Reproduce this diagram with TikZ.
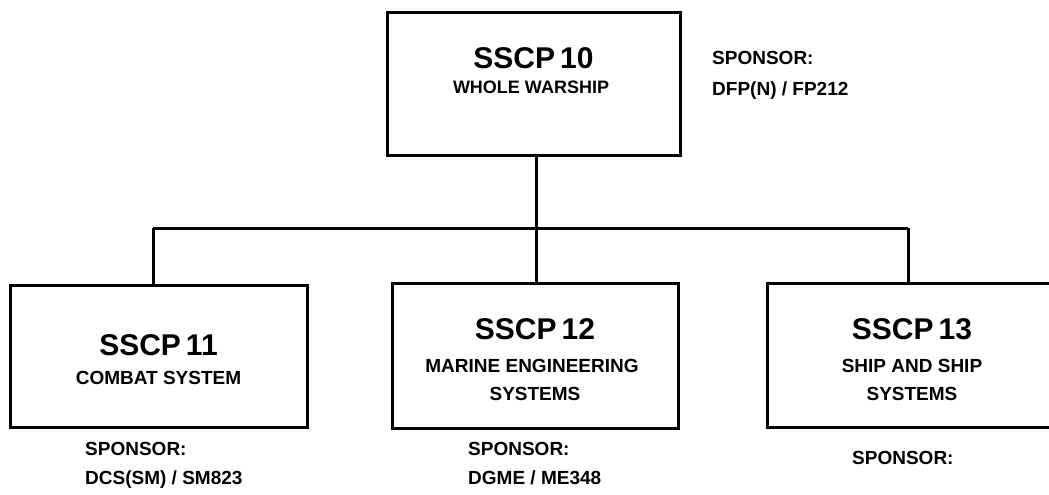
\documentclass[tikz,border=0pt]{standalone}
\usepackage{fontspec}
\setmainfont{Liberation Sans}
\begin{document}
\begin{tikzpicture}[x=1pt,y=-1pt,
  box/.style={draw,line width=3pt,inner sep=0pt},
  bar/.style={line width=3pt},
  ttl/.style={anchor=base,inner sep=0pt,font=\fontsize{30}{30}\selectfont\bfseries},
  sub/.style={anchor=base,inner sep=0pt,font=\fontsize{19}{19}\selectfont\bfseries},
  spn/.style={anchor=base west,inner sep=0pt,font=\fontsize{19}{19}\selectfont\bfseries}]
\clip (0,0) rectangle (1049,495);
% boxes
\node[box,minimum width=293pt,minimum height=142pt] (b10) at (533.5,84) {};
\node[box,minimum width=297pt,minimum height=142pt] (b11) at (158.5,356) {};
\node[box,minimum width=286pt,minimum height=145pt] (b12) at (535,355.5) {};
\node[box,minimum width=292pt,minimum height=144pt] (b13) at (913,355) {};
% texts
\node[ttl] (t10) at (533.5,68) {SSCP\,10};
\node[sub,font=\fontsize{18}{18}\selectfont\bfseries] (s10) at (531,93) {WHOLE WARSHIP};
\node[ttl] (t11) at (158.5,355) {SSCP\,11};
\node[sub] (s11) at (158.5,384) {COMBAT SYSTEM};
\node[ttl] (t12) at (535,339) {SSCP\,12};
\node[sub] (s12a) at (532,372) {MARINE ENGINEERING};
\node[sub] (s12b) at (535,400) {SYSTEMS};
\node[ttl] (t13) at (912,339) {SSCP\,13};
\node[sub] (s13a) at (912,372) {SHIP AND SHIP};
\node[sub] (s13b) at (912,400) {SYSTEMS};
% sponsors
\node[spn] (p10a) at (712,65) {SPONSOR:};
\node[spn] (p10b) at (712,95) {DFP(N) / FP212};
\node[spn] (p11a) at (85,455) {SPONSOR:};
\node[spn] (p11b) at (85,484) {DCS(SM) / SM823};
\node[spn] (p12a) at (468,455) {SPONSOR:};
\node[spn] (p12b) at (468,484) {DGME / ME348};
\node[spn] (p13a) at (852,464) {SPONSOR:};
% connectors
\coordinate (busL) at (153,228);
\coordinate (busM) at (536,228);
\coordinate (busR) at (908,228);
\draw[bar] (busL) -- (busR);
\draw[bar] (b10.south -| busM) -- (busM);
\draw[bar] (busL) -- (busL |- b11.north);
\draw[bar] (busM) -- (busM |- b12.north);
\draw[bar] (busR) -- (busR |- b13.north);
\end{tikzpicture}
\end{document}
